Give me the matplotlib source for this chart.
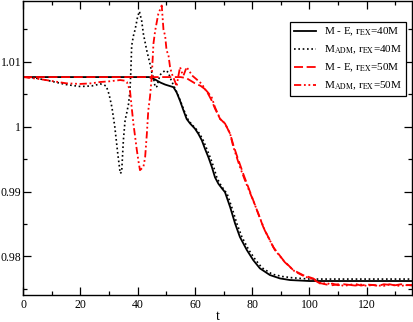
import matplotlib
matplotlib.use('Agg')
import matplotlib.pyplot as plt
from matplotlib.ticker import MultipleLocator, FuncFormatter

plt.rcParams['font.family'] = ['Liberation Serif', 'DejaVu Serif']
plt.rcParams['mathtext.fontset'] = 'stix'

# M - E, r_EX = 40M
t_me40 = [0, 44, 46, 48, 49.6, 52.5, 53.6, 54.8, 56, 57.1, 58.3, 60, 61.2, 62.4, 63.5,
          64.7, 65.9, 67, 68.2, 69.4, 70.5, 72.3, 74, 75.7, 78.1, 80.4, 82.7, 86.2,
          89.7, 93.2, 100, 136]
y_me40 = [1.00766, 1.00766, 1.0073, 1.0068, 1.0065, 1.0061, 1.0053, 1.0040, 1.0025,
          1.0012, 1.0005, 0.9997, 0.9989, 0.9979, 0.9966, 0.9953, 0.9938, 0.9922,
          0.9912, 0.9905, 0.9899, 0.9876, 0.9851, 0.9830, 0.9810, 0.9794, 0.97815,
          0.97712, 0.9766, 0.97635, 0.9762, 0.9762]

# M_ADM, r_EX = 40M
t_adm40 = [0, 4, 10, 15, 20, 24, 27, 29, 30, 31, 32, 33, 33.9, 34.4, 35, 35.6, 36.2,
           36.8, 37.3, 37.6, 37.9, 38.5, 39.1, 40, 40.6, 41.4, 42, 43.2, 44.3, 44.9,
           45.5, 46.1, 46.7, 47.8, 49.6, 50.7, 51.3, 52.5, 53.8, 55, 56.3, 57.6, 58.8,
           60.5, 61.8, 63, 64.2, 65.4, 66.6, 67.7, 68.9, 70.1, 71.2, 73, 74.7, 76.4,
           78.8, 81.1, 83.4, 87, 90.5, 94, 100, 110, 120, 136]
y_adm40 = [1.00766, 1.00754, 1.0070, 1.0065, 1.0062, 1.0063, 1.0066, 1.0063, 1.0050,
           1.0030, 1.0000, 0.9960, 0.9928, 0.9930, 0.9979, 1.0010, 1.0022, 1.0035,
           1.0055, 1.0085, 1.0125, 1.0140, 1.0150, 1.0170, 1.0178, 1.0163, 1.0143,
           1.0117, 1.0097, 1.0084, 1.0076, 1.0061, 1.0062, 1.0080, 1.0087, 1.0084,
           1.0076, 1.0064, 1.0052, 1.0039, 1.0024, 1.0011, 1.0004, 0.9996, 0.9988,
           0.9978, 0.9965, 0.9952, 0.9937, 0.9921, 0.9911, 0.9903, 0.9897, 0.9874,
           0.9850, 0.9830, 0.9810, 0.9795, 0.97825, 0.97725, 0.9769, 0.9767, 0.9765,
           0.9765, 0.9765, 0.9765]

# M - E, r_EX = 50M
t_me50 = [0, 55, 57, 60, 62, 63.5, 64.7, 65.9, 67, 68.8, 70.5, 72.3, 73.4, 74.6, 76.9,
          80.4, 83.9, 87.4, 90.9, 94.3, 97.8, 101.3, 103, 104, 106, 108, 110, 112, 114,
          116, 118, 120, 122, 124, 126, 128, 130, 132, 134, 136]
y_me50 = [1.00766, 1.00766, 1.0075, 1.0067, 1.0063, 1.0058, 1.0050, 1.0040, 1.0028,
          1.0012, 1.0005, 0.9989, 0.9972, 0.9956, 0.9927, 0.9886, 0.9845, 0.9814,
          0.9794, 0.9779, 0.9771, 0.9766, 0.9761, 0.97585, 0.97565, 0.9758, 0.97555,
          0.9757, 0.9756, 0.97575, 0.9755, 0.97565, 0.9756, 0.97545, 0.9757, 0.9756,
          0.97555, 0.9757, 0.97555, 0.9756]

# M_ADM, r_EX = 50M
t_adm50 = [0, 5, 9.4, 15, 19.9, 24, 26.9, 30, 33.9, 35.5, 36.2, 37.3, 37.9, 38.5,
           39.7, 40.3, 40.8, 42, 42.6, 43.2, 43.7, 44.3, 44.9, 45.5, 46.1, 47.2,
           48.4, 49.0, 49.6, 50.1, 50.7, 51.3, 51.9, 53.1, 53.6, 54.2, 54.8, 55.4,
           56, 57.1, 58.3, 59, 60.6, 62.4, 63.5, 64.7, 65.9, 67, 68.8, 70.5, 72.3,
           73.4, 74.6, 75.7, 77.5, 80.9, 84.4, 87.9, 91.4, 94.8, 98.3, 101.5, 103,
           104, 106, 108, 110, 112, 114, 116, 118, 120, 122, 124, 126, 128, 130,
           132, 134, 136]
y_adm50 = [1.00766, 1.0074, 1.0071, 1.0067, 1.0066, 1.0067, 1.0069, 1.0070, 1.0072,
           1.0071, 1.0069, 1.0056, 1.0030, 1.0005, 0.9964, 0.9946, 0.9933, 0.9938,
           0.9953, 0.9989, 1.0025, 1.0046, 1.0076, 1.0128, 1.0148, 1.0174, 1.0187,
           1.0150, 1.0140, 1.0117, 1.0112, 1.0092, 1.0082, 1.0069, 1.0062, 1.0078,
           1.0092, 1.0084, 1.0079, 1.0092, 1.0084, 1.0079, 1.0073, 1.0066, 1.0058,
           1.0052, 1.0045, 1.0030, 1.0012, 1.0005, 0.9989, 0.9969, 0.9953, 0.9938,
           0.9917, 0.9880, 0.9840, 0.9810, 0.9791, 0.9777, 0.9769, 0.9764, 0.9760,
           0.97575, 0.9759, 0.97555, 0.9757, 0.97545, 0.9756, 0.9755, 0.97565,
           0.97545, 0.9756, 0.9755, 0.97545, 0.9757, 0.9755, 0.97545, 0.9756, 0.9755]

fig = plt.figure(figsize=(4.14, 3.22), dpi=100)
ax = fig.add_axes([0.056, 0.084, 0.939, 0.913])

ax.plot(t_me40, y_me40, color='black', lw=1.3, label=r'M - E, r$_{\rm EX}$=40M')
ax.plot(t_adm40, y_adm40, color='black', lw=1.2, linestyle=(0, (1, 1.6)),
        label=r'M$_{\rm ADM}$, r$_{\rm EX}$=40M')
ax.plot(t_me50, y_me50, color='red', lw=1.3, linestyle=(0, (5, 2)),
        label=r'M - E, r$_{\rm EX}$=50M')
ax.plot(t_adm50, y_adm50, color='red', lw=1.3, linestyle=(0, (4, 1.5, 1, 1.5, 1, 1.5)),
        label=r'M$_{\rm ADM}$, r$_{\rm EX}$=50M')

ax.set_xlim(0, 135.8)
ax.set_ylim(0.97405, 1.0194)
ax.xaxis.set_major_locator(MultipleLocator(20))
ax.xaxis.set_minor_locator(MultipleLocator(10))
ax.yaxis.set_major_locator(MultipleLocator(0.01))
ax.yaxis.set_minor_locator(MultipleLocator(0.005))
ax.yaxis.set_major_formatter(FuncFormatter(lambda v, p: '%g' % round(v, 4)))
ax.tick_params(which='both', direction='in', top=True, right=True, labelsize=8.5)
ax.tick_params(axis='y', pad=1.5)
ax.tick_params(axis='x', pad=3)
ax.tick_params(which='major', length=6, width=0.9)
ax.tick_params(which='minor', length=3, width=0.9)
for s in ax.spines.values():
    s.set_linewidth(1.0)

ax.set_xlabel('t', fontsize=10, labelpad=-1)

leg = ax.legend(loc='upper right', bbox_to_anchor=(0.985, 0.929), fontsize=8,
                frameon=True, fancybox=False, framealpha=1, edgecolor='black',
                handlelength=2.0, handletextpad=0.7, labelspacing=0.5,
                borderpad=0.35, borderaxespad=0)
leg.get_frame().set_linewidth(0.9)

fig.savefig('out.png', dpi=100)
